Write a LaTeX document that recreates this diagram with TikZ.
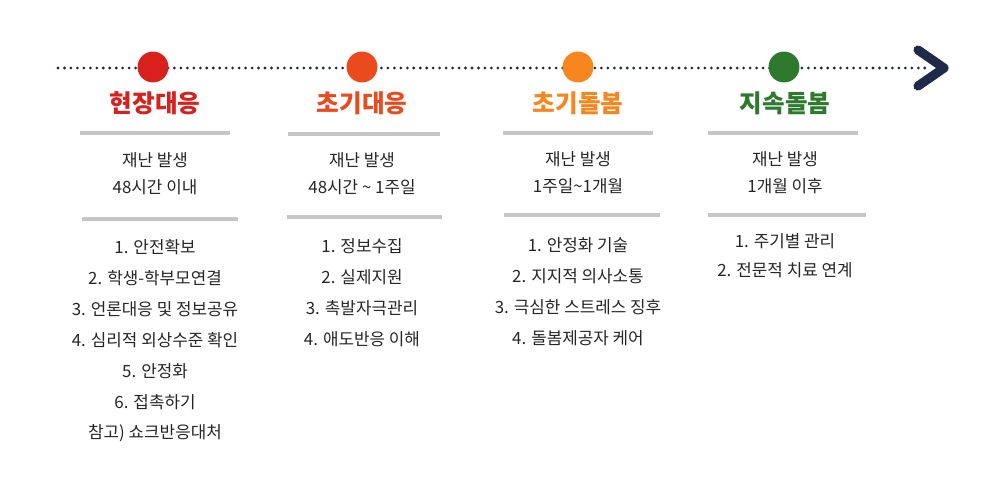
\documentclass[tikz,border=0pt]{standalone}
\usepackage{fontspec}
\setmainfont{Noto Sans CJK KR}
\usetikzlibrary{positioning}
\definecolor{cred}{HTML}{D8201C}
\definecolor{cored}{HTML}{EA4A1E}
\definecolor{corange}{HTML}{F7861F}
\definecolor{cgreen}{HTML}{2D7A2E}
\definecolor{cnavy}{HTML}{1F2A4A}
\tikzset{
  dotline/.style={line width=2.2pt,dash pattern=on 0pt off 4.6pt,line cap=round,cnavy},
  stage/.style={circle,minimum size=22pt,inner sep=0pt},
  title/.style={font=\bfseries\fontsize{17.5}{20}\selectfont},
  bar/.style={line width=3.5pt,gray!45},
  txt/.style={font=\fontsize{12}{14}\selectfont,text=black!85},
}
\begin{document}
\begin{tikzpicture}[x=0.025cm,y=-0.025cm]
\useasboundingbox (0,0) rectangle (1007,487);
% timeline
\coordinate (tl) at (58,68);
\coordinate (tr) at (928,68);
\draw[dotline] (tl) -- (tr);
\draw[cnavy,line width=6.5pt,line join=round,line cap=round] (918,50) -- (944,68) -- (918,86);
% stages
\node[stage,fill=cred] (c1) at (153,67) {};
\node[stage,fill=cored] (c2) at (362,67) {};
\node[stage,fill=corange] (c3) at (578,67) {};
\node[stage,fill=cgreen] (c4) at (784,67) {};
\node[title,text=cred] (t1) at (155,103) {현장대응};
\node[title,text=cored] (t2) at (362,103) {초기대응};
\node[title,text=corange] (t3) at (578,103) {초기돌봄};
\node[title,text=cgreen] (t4) at (785,103) {지속돌봄};
% bars
\draw[bar] (80,133) -- (230,133);
\draw[bar] (288,134) -- (440,134);
\draw[bar] (503,133) -- (653,133);
\draw[bar] (708,133) -- (858,133);
\draw[bar] (82,219) -- (238,219);
\draw[bar] (287,217) -- (442,217);
\draw[bar] (504,215) -- (660,215);
\draw[bar] (708,215) -- (866,215);
% periods
\node[txt] (p1a) at (155,160) {재난 발생};
\node[txt] (p1b) at (155,187) {48시간 이내};
\node[txt] (p2a) at (362,160) {재난 발생};
\node[txt] (p2b) at (362,187) {48시간 \textasciitilde{} 1주일};
\node[txt] (p3a) at (578,159) {재난 발생};
\node[txt] (p3b) at (578,186) {1주일\textasciitilde1개월};
\node[txt] (p4a) at (785,159) {재난 발생};
\node[txt] (p4b) at (785,186) {1개월 이후};
% lists
\foreach \s [count=\i] in {1. 안전확보,2. 학생-학부모연결,3. 언론대응 및 정보공유,4. 심리적 외상수준 확인,5. 안정화,6. 접촉하기,참고) 쇼크반응대처}
  \node[txt] (l1\i) at (155,{216+31*\i}) {\s};
\foreach \s [count=\i] in {1. 정보수집,2. 실제지원,3. 촉발자극관리,4. 애도반응 이해}
  \node[txt] (l2\i) at (362,{215+31*\i}) {\s};
\foreach \s [count=\i] in {1. 안정화 기술,2. 지지적 의사소통,3. 극심한 스트레스 징후,4. 돌봄제공자 케어}
  \node[txt] (l3\i) at (578,{214+31*\i}) {\s};
\foreach \s [count=\i] in {1. 주기별 관리,2. 전문적 치료 연계}
  \node[txt] (l4\i) at (785,{212+29*\i}) {\s};
\end{tikzpicture}
\end{document}
